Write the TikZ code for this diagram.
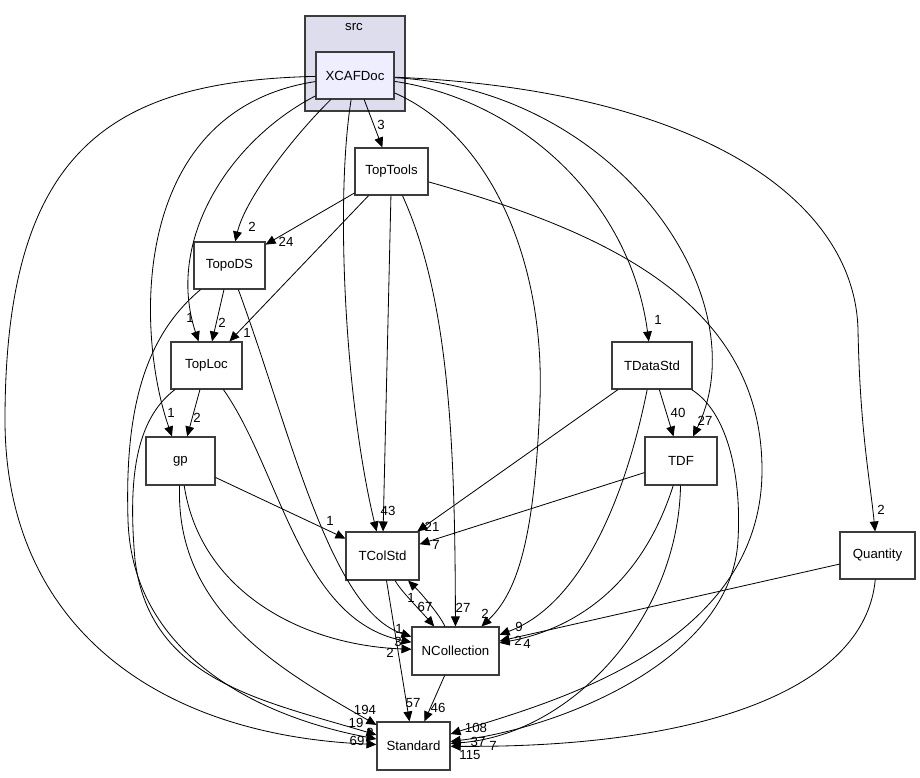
\documentclass[tikz,border=0pt]{standalone}
\usepackage{fontspec}
\setmainfont{Liberation Sans}
\usetikzlibrary{arrows.meta}
\definecolor{srcfill}{RGB}{221,221,238}
\definecolor{dirfill}{RGB}{238,238,255}
\definecolor{boxline}{RGB}{60,60,60}

\begin{document}
\begin{tikzpicture}[x=0.03cm, y=-0.03cm,
      every node/.style={font=\fontsize{11.3}{13}\selectfont},
      dirbox/.style={draw=boxline, line width=1pt, fill=white, inner sep=0pt, minimum height=1.41cm},
      srcbox/.style={draw=boxline, line width=1pt, fill=srcfill, inner sep=0pt, minimum width=3cm, minimum height=2.85cm},
      dep/.style={-{Triangle[length=8.5pt,width=7.5pt]}, line width=0.7pt, black},
      cnt/.style={inner sep=0pt}
    ]
      \useasboundingbox (0,0) rectangle (920,777);

      % src cluster with XCAFDoc
      \node[srcbox] (src) at (355,63.5) {};
      \node (srcname) at (354,27) {src};
      \node[dirbox, fill=dirfill, minimum width=2.34cm] (xcaf) at (355,75.5) {XCAFDoc};

      % directories
      \node[dirbox, minimum width=2.19cm] (toptools) at (391.5,171.5) {TopTools};
      \node[dirbox, minimum width=2.13cm] (topods) at (229.5,265.5) {TopoDS};
      \node[dirbox, minimum width=2.13cm] (toploc) at (206.5,365.5) {TopLoc};
      \node[dirbox, minimum width=2.07cm, minimum height=1.44cm] (gp) at (180.5,461) {gp};
      \node[dirbox, minimum width=2.4cm] (tdatastd) at (652,365.5) {TDataStd};
      \node[dirbox, minimum width=2.16cm, minimum height=1.44cm] (tdf) at (681,461) {TDF};
      \node[dirbox, minimum width=2.19cm, minimum height=1.44cm] (tcolstd) at (382.5,556) {TColStd};
      \node[dirbox, minimum width=2.25cm] (quantity) at (877.5,555.5) {Quantity};
      \node[dirbox, minimum width=2.61cm, minimum height=1.44cm] (ncoll) at (455.5,651) {NCollection};
      \node[dirbox, minimum width=2.19cm, minimum height=1.44cm] (std) at (413.5,746) {Standard};

      % XCAFDoc
      \draw[dep] (xcaf) -- (toptools) node[cnt] at (381,125) {3};
      \draw[dep] (xcaf) .. controls (290,140) and (245,200) .. (topods) node[cnt] at (252,227) {2};
      \draw[dep] (xcaf) .. controls (230,140) and (165,240) .. (toploc) node[cnt] at (190,318) {1};
      \draw[dep] (xcaf) .. controls (130,110) and (135,330) .. (gp) node[cnt] at (171,413) {1};
      \draw[dep] (xcaf) .. controls (110,81) and (5,150) .. (5,420) .. controls (5,620) and (150,735) .. (std) node[cnt] at (357,741) {69};
      \draw[dep] (xcaf) .. controls (335,200) and (345,400) .. (tcolstd);
      \draw[dep] (xcaf) .. controls (490,135) and (545,260) .. (540,400) .. controls (535,530) and (520,590) .. (ncoll) node[cnt] at (485,614) {2};
      \draw[dep] (xcaf) .. controls (520,100) and (630,200) .. (tdatastd) node[cnt] at (658,320) {1};
      \draw[dep] (xcaf) .. controls (620,90) and (760,300) .. (tdf) node[cnt] at (705,421) {27};
      \draw[dep] (xcaf) .. controls (700,90) and (855,200) .. (858,330) .. controls (860,430) and (870,480) .. (quantity) node[cnt] at (881,510) {2};

      % TopTools
      \draw[dep] (toptools) -- (topods) node[cnt] at (286,242) {24};
      \draw[dep] (toptools) -- (toploc) node[cnt] at (247,333) {1};
      \draw[dep] (toptools) -- (tcolstd) node[cnt] at (388,511) {43};
      \draw[dep] (toptools) .. controls (450,300) and (455,450) .. (ncoll) node[cnt] at (463,608) {27};
      \draw[dep] (toptools) .. controls (600,230) and (762,300) .. (762,470) .. controls (762,650) and (540,705) .. (std) node[cnt] at (476,728) {108};

      % TopoDS
      \draw[dep] (topods) -- (toploc) node[cnt] at (222,323) {2};
      \draw[dep] (topods) .. controls (140,340) and (125,420) .. (128,520) .. controls (132,650) and (250,715) .. (std) node[cnt] at (370,733) {2};
      \draw[dep] (topods) .. controls (290,430) and (330,610) .. (ncoll) node[cnt] at (399,629) {1};

      % TopLoc
      \draw[dep] (toploc) -- (gp) node[cnt] at (197,418) {2};
      \draw[dep] (toploc) .. controls (135,420) and (128,480) .. (135,560) .. controls (150,680) and (260,700) .. (std) node[cnt] at (356,723) {19};
      \draw[dep] (toploc) .. controls (280,470) and (300,620) .. (ncoll) node[cnt] at (398,642) {3};

      % gp
      \draw[dep] (gp) -- (tcolstd) node[cnt] at (330,521) {1};
      \draw[dep] (gp) .. controls (200,590) and (300,645) .. (ncoll) node[cnt] at (390,653) {2};
      \draw[dep] (gp) .. controls (175,610) and (280,670) .. (std) node[cnt] at (365,710) {194};

      % TColStd / NCollection
      \draw[dep] (tcolstd) .. controls (400,590) and (420,610) .. (ncoll) node[cnt] at (425,607) {67};
      \draw[dep] (tcolstd) -- (std) node[cnt] at (413,703) {57};
      \draw[dep] (ncoll) .. controls (440,615) and (420,592) .. (tcolstd) node[cnt] at (411,598) {1};
      \draw[dep] (ncoll) -- (std) node[cnt] at (438,708) {46};

      % TDataStd
      \draw[dep] (tdatastd) -- (tdf) node[cnt] at (678,413) {40};
      \draw[dep] (tdatastd) -- (tcolstd) node[cnt] at (432,527) {21};
      \draw[dep] (tdatastd) .. controls (625,500) and (580,605) .. (ncoll) node[cnt] at (519,627) {9};
      \draw[dep] (tdatastd) .. controls (725,410) and (742,470) .. (738,540) .. controls (732,660) and (560,728) .. (std) node[cnt] at (478,742) {37};

      % TDF
      \draw[dep] (tdf) -- (tcolstd) node[cnt] at (436,545) {7};
      \draw[dep] (tdf) .. controls (640,590) and (570,630) .. (ncoll) node[cnt] at (518,641) {2};
      \draw[dep] (tdf) .. controls (678,620) and (570,735) .. (std) node[cnt] at (493,746) {7};

      % Quantity
      \draw[dep] (quantity) -- (ncoll) node[cnt] at (527,644) {4};
      \draw[dep] (quantity) .. controls (865,690) and (700,748) .. (std) node[cnt] at (470,755) {115};
    \end{tikzpicture}
\end{document}
